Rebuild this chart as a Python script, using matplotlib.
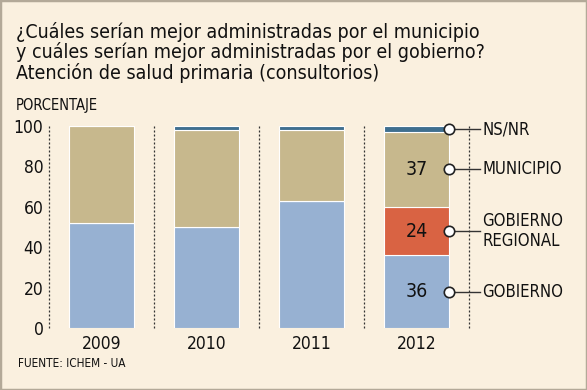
import matplotlib
matplotlib.use("Agg")
import matplotlib.pyplot as plt
from matplotlib.patches import Rectangle

years = ["2009", "2010", "2011", "2012"]
gobierno = [52, 50, 63, 36]
gob_regional = [0, 0, 0, 24]
municipio = [48, 48, 35, 37]
nsnr = [0, 2, 2, 3]
yticks = [0, 20, 40, 60, 80, 100]
legend_labels = ["NS/NR", "MUNICIPIO", "GOBIERNO\nREGIONAL", "GOBIERNO"]

BG = "#FAF0DF"
C_GOB = "#97B1D2"
C_REG = "#D96343"
C_MUN = "#C7B88D"
C_NS = "#3F6F8F"
FONT = "DejaVu Sans"
ST = "condensed"

W, H = 587, 390
fig = plt.figure(figsize=(W / 100, H / 100), dpi=100, facecolor=BG)
fig.patches.append(Rectangle((0, 0), 1, 1, transform=fig.transFigure,
                             fill=False, edgecolor="#B3A998", linewidth=2.5))

ax = fig.add_axes([49 / W, 1 - 328 / H, (469 - 49) / W, (328 - 126) / H])
ax.set_facecolor(BG)
x = list(range(len(years)))
bw = 0.62
b1 = gobierno
b2 = [g + r for g, r in zip(gobierno, gob_regional)]
b3 = [a + m for a, m in zip(b2, municipio)]
ax.bar(x, gobierno, width=bw, color=C_GOB, edgecolor="white", linewidth=0.8)
ax.bar(x, gob_regional, bottom=b1, width=bw, color=C_REG, edgecolor="white", linewidth=0.8)
ax.bar(x, municipio, bottom=b2, width=bw, color=C_MUN, edgecolor="white", linewidth=0.8)
ax.bar(x, nsnr, bottom=b3, width=bw, color=C_NS, edgecolor="white", linewidth=0.8)

for xv in [-0.5, 0.5, 1.5, 2.5, 3.5]:
    ax.plot([xv, xv], [0, 100], color="#333333", lw=0.9, dashes=(1.6, 1.6), clip_on=False)

ax.set_xlim(-0.5, 3.5)
ax.set_ylim(0, 100)
for s in ax.spines.values():
    s.set_visible(False)
ax.set_yticks(yticks)
ax.set_yticklabels([str(v) for v in yticks], fontsize=12.5, family=FONT, stretch=ST, color="#111111")
ax.set_xticks(x)
ax.set_xticklabels(years, fontsize=12.5, family=FONT, stretch=ST, color="#111111")
ax.tick_params(axis="both", length=0)
ax.tick_params(axis="y", pad=4)
ax.tick_params(axis="x", pad=5)

i = 3
mids = [b3[i] + nsnr[i] / 2, b2[i] + municipio[i] / 2,
        b1[i] + gob_regional[i] / 2, gobierno[i] / 2]
vals = [None, municipio[i], gob_regional[i], gobierno[i]]
for v, m in zip(vals, mids):
    if v is not None:
        ax.text(i, m, str(v), ha="center", va="center", fontsize=14, family=FONT,
                stretch=ST, color="#111111")
xc = i + bw / 2
for lab, m in zip(legend_labels, mids):
    ax.plot([xc, 3.6], [m, m], color="#333333", lw=1, clip_on=False, zorder=4)
    ax.plot([xc], [m], marker="o", ms=7.5, mfc="white", mec="#222222", mew=1.2,
            clip_on=False, zorder=5)
    ax.text(3.625, m, lab, ha="left", va="center", fontsize=12, family=FONT,
            stretch=ST, color="#111111", linespacing=1.1, clip_on=False)

title = ["¿Cuáles serían mejor administradas por el municipio",
         "y cuáles serían mejor administradas por el gobierno?",
         "Atención de salud primaria (consultorios)"]
for k, line in enumerate(title):
    fig.text(16 / W, 1 - (38 + 20.5 * k) / H, line, fontsize=14, family=FONT,
             stretch=ST, color="#111111", ha="left", va="baseline")
fig.text(16 / W, 1 - 110 / H, "PORCENTAJE", fontsize=10.5, family=FONT, stretch=ST,
         color="#111111", ha="left", va="baseline")
fig.text(18 / W, 1 - 367 / H, "FUENTE: ICHEM - UA", fontsize=8.5, family=FONT, stretch=ST,
         color="#111111", ha="left", va="baseline")

fig.savefig("out.png", dpi=100, facecolor=BG)
